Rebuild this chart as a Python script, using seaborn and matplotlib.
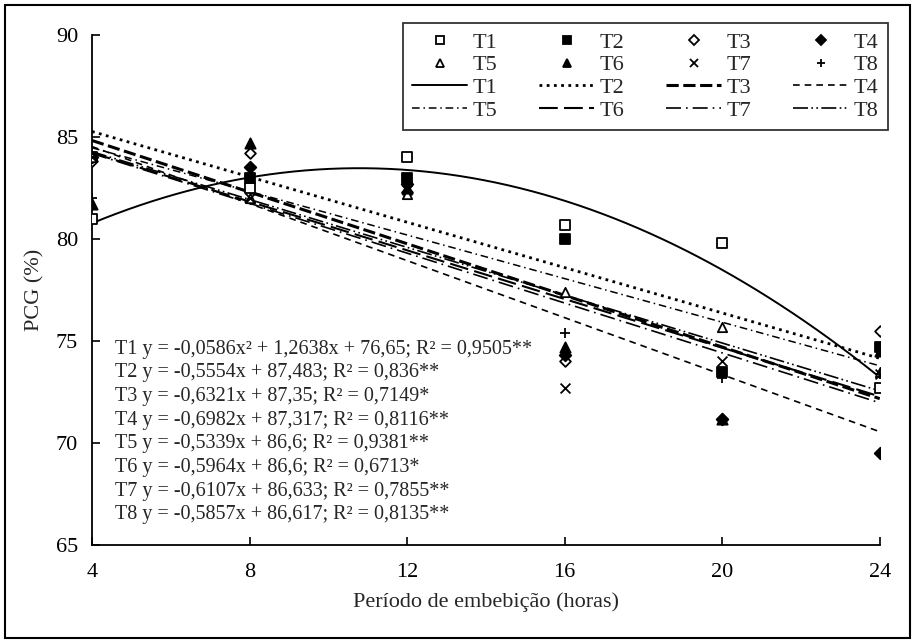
import numpy as np
import pandas as pd
import seaborn as sns
import matplotlib.pyplot as plt
from matplotlib.lines import Line2D
from matplotlib.patches import Rectangle

sns.set_theme(style="ticks")
plt.rcParams['font.family'] = ['Liberation Serif', 'DejaVu Serif']

hours = [4, 8, 12, 16, 20, 24]
treatments = ['T1', 'T2', 'T3', 'T4', 'T5', 'T6', 'T7', 'T8']

t1 = [81.0, 82.5, 84.0, 80.7, 79.8, 72.7]
t2 = [84.0, 83.0, 83.0, 80.0, 73.5, 74.7]
t3 = [83.8, 84.2, 82.3, 74.0, 71.2, 75.5]
t4 = [84.0, 83.5, 82.7, 74.3, 71.2, 69.5]
t5 = [84.0, 82.0, 82.2, 77.4, 75.7, 73.5]
t6 = [81.7, 84.7, 82.5, 74.7, 71.2, 74.5]
t7 = [84.0, 82.0, 82.4, 72.7, 74.0, 73.4]
t8 = [82.0, 83.5, 83.0, 75.4, 73.2, 73.4]

# fitted equations shown on the chart (c2, c1, c0)
coef = [(-0.0586, 1.2638, 76.65), (0, -0.5554, 87.483), (0, -0.6321, 87.35),
        (0, -0.6982, 87.317), (0, -0.5339, 86.6), (0, -0.5964, 86.6),
        (0, -0.6107, 86.633), (0, -0.5857, 86.617)]

eq_text = ["T1 y = -0,0586x\u00b2 + 1,2638x + 76,65; R\u00b2 = 0,9505**",
           "T2 y = -0,5554x + 87,483; R\u00b2 = 0,836**",
           "T3 y = -0,6321x + 87,35; R\u00b2 = 0,7149*",
           "T4 y = -0,6982x + 87,317; R\u00b2 = 0,8116**",
           "T5 y = -0,5339x + 86,6; R\u00b2 = 0,9381**",
           "T6 y = -0,5964x + 86,6; R\u00b2 = 0,6713*",
           "T7 y = -0,6107x + 86,633; R\u00b2 = 0,7855**",
           "T8 y = -0,5857x + 86,617; R\u00b2 = 0,8135**"]

series = [t1, t2, t3, t4, t5, t6, t7, t8]
df = pd.DataFrame({'hora': hours * 8,
                   'pcg': sum(series, []),
                   'trat': [t for t in treatments for _ in hours]})

markers = [('s', 'white', 55), ('s', 'black', 45), ('D', 'white', 30), ('D', 'black', 35),
           ('^', 'white', 45), ('^', 'black', 55), ('x', 'black', 50), ('+', 'black', 60)]
styles = [('-', 1.4), ((0, (1, 1.6)), 2.0), ((0, (4, 1.5)), 2.2), ((0, (4, 3)), 1.2),
          ((0, (5, 2.5, 1, 2.5)), 1.1), ((0, (9, 3)), 1.5), ((0, (9, 3, 1, 3)), 1.2),
          ((0, (9, 2, 1, 2, 1, 2)), 1.2)]

fig = plt.figure(figsize=(9.15, 6.43), dpi=100)
ax = fig.add_axes([0.1005, 0.152, 0.861, 0.794])

xs = np.linspace(4, 24, 200)
for k, t in enumerate(treatments):
    c2, c1, c0 = coef[k]
    ls, lw = styles[k]
    sns.lineplot(x=xs, y=c2 * xs ** 2 + c1 * xs + c0, ax=ax, color='black',
                 linestyle=ls, linewidth=lw, zorder=2)

for k, t in enumerate(treatments):
    m, fc, s = markers[k]
    sub = df[df['trat'] == t]
    if m in ('x', '+'):
        ax.scatter(sub['hora'], sub['pcg'], marker=m, color='black', s=s, linewidths=1.3, zorder=3)
    else:
        sns.scatterplot(data=sub, x='hora', y='pcg', ax=ax, marker=m, s=s,
                        color=fc, edgecolor='black', linewidth=1.3, zorder=3)

ax.set_xlim(4, 24)
ax.set_ylim(65, 90)
ax.set_xticks(hours)
ax.set_yticks([65, 70, 75, 80, 85, 90])
ax.tick_params(direction='in', length=6, width=1.2, labelsize=16, colors='black', pad=10)
ax.tick_params(axis='x', pad=13)
sns.despine(ax=ax)
for sp in ['left', 'bottom']:
    ax.spines[sp].set_linewidth(1.3)
    ax.spines[sp].set_color('black')
ax.set_xlabel('Período de embebição (horas)', fontsize=16, labelpad=7)
ax.set_ylabel('PCG (%)', fontsize=16, labelpad=8)

for i, s in enumerate(eq_text):
    ax.text(0.029, 0.384 - i * 0.0463, s, transform=ax.transAxes, fontsize=14.5,
            va='center', ha='left')

handles = []
labels = []
order = []
for col in range(4):
    order += [(0, col), (0, col + 4), (1, col), (1, col + 4)]
for kind, k in order:
    if kind == 0:
        m, fc, s = markers[k]
        h = Line2D([], [], linestyle='none', marker=m, markersize=6 if m != 'D' else 5,
                   markerfacecolor=fc, markeredgecolor='black', markeredgewidth=1.3, color='black')
    else:
        ls, lw = styles[k]
        h = Line2D([], [], linestyle=ls, linewidth=lw, color='black')
    handles.append(h)
    labels.append(treatments[k])

leg = fig.legend(handles, labels, ncol=4, loc='upper left', bbox_to_anchor=(0.4404, 0.964),
                 frameon=True, fancybox=False, edgecolor='black', fontsize=16,
                 handlelength=2.5, columnspacing=1.85, labelspacing=0.1, handletextpad=0.25,
                 borderpad=0.4, borderaxespad=0)
leg.get_frame().set_linewidth(1.3)

fig.patches.append(Rectangle((0.006, 0.008), 0.988, 0.984, transform=fig.transFigure,
                             fill=False, edgecolor='black', linewidth=1.5))

fig.savefig('out.png', dpi=100)
